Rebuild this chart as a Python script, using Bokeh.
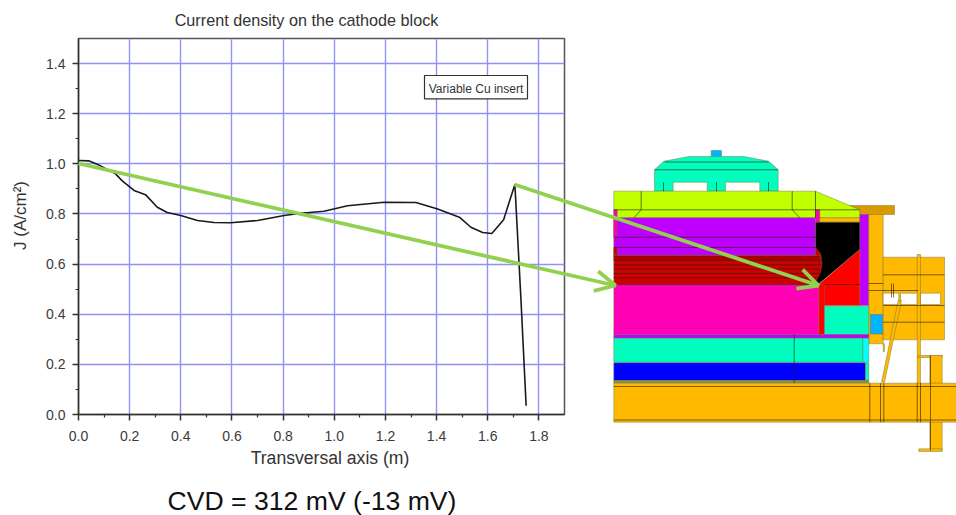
from bokeh.plotting import figure
from bokeh.models import (Range1d, LinearAxis, FixedTicker, Grid, BoxAnnotation, Label,
                          Arrow, OpenHead, NumeralTickFormatter)
from bokeh.embed import file_html
from bokeh.resources import INLINE
import math

# ---- chart data
transversal_m = [0.0, 0.04, 0.086, 0.145, 0.17, 0.217, 0.262, 0.308, 0.347, 0.40, 0.465, 0.53, 0.595,
                 0.70, 0.804, 0.869, 0.96, 1.052, 1.195, 1.319, 1.404, 1.489, 1.534, 1.58, 1.616,
                 1.662, 1.706, 1.73, 1.75]
current_density = [1.013, 1.012, 0.992, 0.96, 0.933, 0.894, 0.877, 0.827, 0.806, 0.794, 0.774, 0.766, 0.765,
                   0.774, 0.794, 0.803, 0.811, 0.833, 0.847, 0.846, 0.82, 0.787, 0.747, 0.726, 0.722,
                   0.777, 0.918, 0.454, 0.035]
x_major = [0.0, 0.2, 0.4, 0.6, 0.8, 1.0, 1.2, 1.4, 1.6, 1.8]
x_minor = [0.1, 0.3, 0.5, 0.7, 0.9, 1.1, 1.3, 1.5, 1.7]
y_major = [0.0, 0.2, 0.4, 0.6, 0.8, 1.0, 1.2, 1.4]
y_minor = [0.1, 0.3, 0.5, 0.7, 0.9, 1.1, 1.3]
chart_title = "Current density on the cathode block"
x_title = "Transversal axis (m)"
y_title = "J (A/cm\u00b2)"
legend_text = "Variable Cu insert"
note_text = "CVD = 312 mV (-13 mV)"

# ---- cross-section drawing, in the drawing's own coordinates
TEAL, LIME, PURPLE, MAGENTA, RED, DKRED, ORANGE, DKORANGE, BLUE, SKY, CYAN = (
    "#00ffbf", "#bfff00", "#bf00ff", "#ff00b4", "#ff0000", "#cc0000", "#ffb900", "#d99a00",
    "#0000ff", "#00b4ff", "#00ffff")


def rect(x0, y0, x1, y1):
    return [x0, x1, x1, x0], [y0, y0, y1, y1]


shapes = [
    (SKY, *rect(710.7, 150, 721, 156)),
    (TEAL, [654, 654, 663.3, 688.3, 743.3, 768.3, 777.7, 777.7, 759.3, 759.3, 725, 725, 706.7, 706.7, 672.7, 672.7],
     [190.7, 169.3, 160.7, 156, 156, 160.7, 169.3, 190.7, 190.7, 181.7, 181.7, 190.7, 190.7, 181.7, 181.7, 190.7]),
    (DKORANGE, [848.3, 894, 894, 859.3, 859.3], [205, 205, 214, 214, 209.3]),
    (LIME, [613.3, 815, 859.3, 859.3, 613.3], [190.7, 190.7, 209.3, 217.3, 217.3]),
    (MAGENTA, *rect(613.3, 209.3, 616.7, 217.3)),
    (MAGENTA, *rect(815, 209.3, 819.3, 221.7)),
    (ORANGE, *rect(819.3, 217.3, 859.3, 221.7)),
    (PURPLE, *rect(613.3, 217.3, 815, 255)),
    (MAGENTA, *rect(613.3, 217.3, 616.7, 236.7)),
    (PURPLE, *rect(859.3, 214, 868.3, 305)),
    (ORANGE, *rect(868.3, 214, 882.7, 343.3)),
    (ORANGE, *rect(882.7, 256.7, 944, 339.3)),
    ("#ffffff", *rect(882.7, 292.7, 898.3, 304)),
    ("#ffffff", *rect(900, 292.7, 916.7, 304)),
    ("#ffffff", *rect(920, 292.7, 940, 304)),
    (ORANGE, *rect(916.7, 254, 920, 420)),
    (ORANGE, *rect(917.3, 355, 941.7, 357)),
    (ORANGE, *rect(929.3, 355, 941.7, 450)),
    (ORANGE, *rect(918.3, 448.3, 941.7, 451)),
    (ORANGE, [897.7, 901, 884, 881], [300, 300, 381.7, 381.7]),
    (ORANGE, *rect(882.7, 343.3, 884, 351)),
    (SKY, *rect(870, 314, 882, 333.5)),
    ("#000000", [815, 859.3, 859.3, 817.5, 815], [221.7, 221.7, 249, 284, 284]),
    (RED, [859.3, 859.3, 818.3, 818.3], [249, 305, 305, 284]),
    (DKRED, [613.3, 815, 815, 820, 821.7, 820, 815, 813.3, 613.3], [255, 255, 247, 253, 263.3, 271.7, 281.7, 284, 284]),
    ("#a80000", *rect(613.3, 255, 820, 260)),
    (DKRED, *rect(613.3, 247, 616.7, 255)),
    (MAGENTA, *rect(613.3, 284, 818.3, 334)),
    (RED, *rect(818.3, 284, 824, 334)),
    (TEAL, *rect(824, 305.7, 868.3, 334)),
    (PURPLE, *rect(613.3, 334, 868.3, 337.7)),
    (TEAL, *rect(613.3, 337.7, 862.3, 361.7)),
    (CYAN, *rect(862.3, 337.7, 868.3, 361.7)),
    (BLUE, *rect(613.3, 362.3, 865, 380)),
    (TEAL, *rect(865, 362.3, 868.3, 380)),
    ("#8a9a30", *rect(613.3, 380, 868.3, 382.7)),
    (ORANGE, *rect(613.3, 382.7, 956, 421.7)),
]
section_lines = [
    ([654, 777.7], [169.3, 169.3]), ([664, 768], [161.5, 161.5]),
    ([663, 663], [181.7, 190.7]), ([716, 716], [181.7, 190.7]), ([768, 768], [181.7, 190.7]),
    ([613.3, 859.3], [209.3, 209.3]), ([640.7, 640.7], [190.7, 209.3]), ([640.7, 633.3], [209.3, 217.3]),
    ([791.7, 791.7], [190.7, 209.3]), ([791.7, 799.3], [209.3, 217.3]), ([815, 815], [190.7, 217.3]),
    ([613.3, 815], [236.7, 236.7]), ([613.3, 815], [247, 247]),
    ([613.3, 821], [264.3, 264.3]), ([613.3, 820], [268.6, 268.6]), ([613.3, 819], [273, 273]),
    ([613.3, 818], [277.3, 277.3]), ([613.3, 821], [260, 260]), ([613.3, 817], [284, 284]),
    ([823.3, 859.3], [284, 284]), ([793.7, 793.7], [334, 382.7]),
    ([882.7, 944], [274.3, 274.3]), ([882.7, 944], [321.7, 321.7]), ([882.7, 944], [305, 305]),
    ([868.3, 918], [290, 290]), ([868.3, 882.7], [283, 283]), ([893, 893], [283, 297]), ([891, 891], [283, 297]),
    ([613.3, 956], [386, 386]), ([613.3, 956], [419.5, 419.5]),
    ([869.3, 869.3], [382.7, 421.7]), ([880, 880], [382.7, 421.7]), ([883.3, 883.3], [382.7, 421.7]),
    ([916.7, 916.7], [382.7, 421.7]), ([920, 920], [382.7, 421.7]), ([930, 930], [355, 450]),
]
green_arrows = [(78, 163, 615, 285), (514, 184, 818, 285)]

W, H = 956, 515

# ---- the chart
p = figure(width=W, height=H, output_backend="svg", toolbar_location=None,
           x_range=Range1d(0, 1.9), y_range=Range1d(0, 1.5),
           min_border_left=78, min_border_right=392, min_border_top=38, min_border_bottom=101,
           x_axis_type=None, y_axis_type=None, background_fill_color="#ffffff")
p.outline_line_color = "#555555"
p.outline_line_width = 1.5

for side, major, minor in (("below", x_major, x_minor), ("left", y_major, y_minor)):
    ax = LinearAxis(ticker=FixedTicker(ticks=major, minor_ticks=minor),
                    formatter=NumeralTickFormatter(format="0.0"))
    ax.axis_line_color = "#333333"
    ax.axis_line_width = 1.5
    ax.major_tick_line_color = "#333333"
    ax.minor_tick_line_color = "#333333"
    ax.major_tick_line_width = 1.5
    ax.minor_tick_line_width = 1.2
    ax.major_tick_in = 0
    ax.minor_tick_in = 0
    ax.major_tick_out = 6
    ax.minor_tick_out = 3
    ax.major_label_text_font = "Liberation Sans"
    ax.major_label_text_font_size = "14px"
    ax.major_label_text_color = "#3a3a3a"
    ax.major_label_standoff = 10 if side == "below" else 7
    p.add_layout(ax, side)
    dim = 0 if side == "below" else 1
    p.add_layout(Grid(dimension=dim, ticker=ax.ticker, grid_line_color="#9090ff", grid_line_width=1.4))

p.line(transversal_m, current_density, line_color="#1a1a1a", line_width=1.6)

# ---- a transparent sheet laid over the whole page: cross-section, arrows, texts
s = figure(width=W, height=H, output_backend="svg", toolbar_location=None,
           x_range=Range1d(0, W), y_range=Range1d(H, 0),
           min_border=0, x_axis_type=None, y_axis_type=None,
           background_fill_alpha=0, border_fill_alpha=0, outline_line_color=None,
           margin=(-H, 0, 0, 0))
s.grid.visible = False

s.patches([a[1] for a in shapes], [a[2] for a in shapes], fill_color=[a[0] for a in shapes],
          line_color="#6b6b3a", line_alpha=0.55, line_width=0.8)
s.multi_line([a[0] for a in section_lines], [a[1] for a in section_lines],
             line_color="#2a1a00", line_alpha=0.6, line_width=1)

s.add_layout(BoxAnnotation(left=424, right=527, top=75, bottom=98.3, fill_color="#ffffff", fill_alpha=1,
                           line_color="#333333", line_alpha=1, line_width=1.2))


def text(x, y, t, size, color="#333333", angle=0.0):
    s.add_layout(Label(x=x, y=y, text=t, text_font="Liberation Sans", text_font_size=size, text_color=color,
                       text_align="center", text_baseline="middle", angle=angle))


text(306, 19, chart_title, "16.2px")
text(329.5, 457, x_title, "17.6px")
text(20, 215, y_title, "17px", angle=math.pi / 2)
text(475.5, 88, legend_text, "12px")
text(311.5, 500, note_text, "26.6px", color="#111111")

for x0, y0, x1, y1 in green_arrows:
    s.add_layout(Arrow(x_start=x0, y_start=y0, x_end=x1, y_end=y1, line_color="#92d050", line_width=3.8,
                       end=OpenHead(size=20, line_color="#92d050", line_width=3.8)))

open("out.html", "w").write(file_html([p, s], INLINE))
